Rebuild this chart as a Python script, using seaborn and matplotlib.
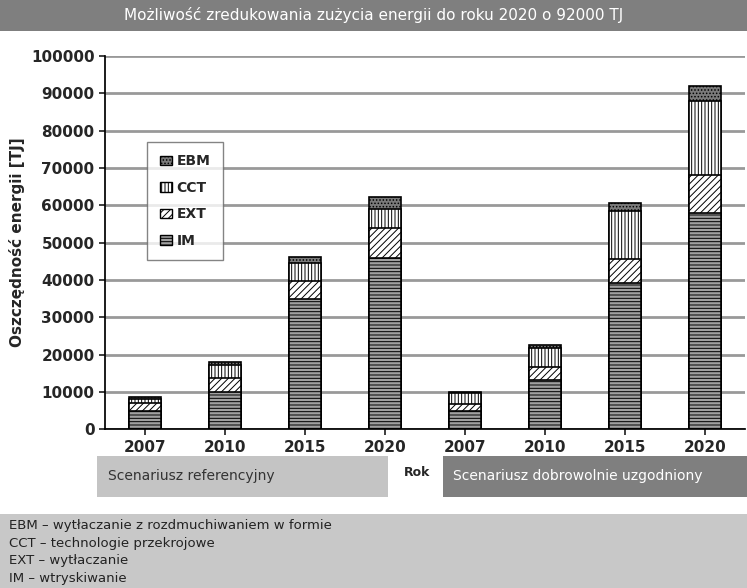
import numpy as np
import pandas as pd
import seaborn as sns
import matplotlib.pyplot as plt
from matplotlib.patches import Rectangle, Patch

years = ['2007', '2010', '2015', '2020', '2007', '2010', '2015', '2020']
im = [5000, 10000, 35000, 45900, 5000, 13200, 39100, 58000]
ext = [2000, 3600, 4600, 8100, 1700, 3400, 6400, 10000]
cct = [1000, 3700, 4900, 5000, 3100, 5100, 13000, 20000]
ebm = [600, 700, 1700, 3100, 200, 900, 2000, 4000]

series = ['EBM', 'CCT', 'EXT', 'IM']
values = {'IM': im, 'EXT': ext, 'CCT': cct, 'EBM': ebm}
styles = {'IM': ('#a0a0a0', '-----'), 'EXT': ('white', '/////'),
          'CCT': ('white', '|||||'), 'EBM': ('#7a7a7a', '.....')}

sns.set_theme(style='white')
plt.rcParams['font.family'] = ['DejaVu Sans']
plt.rcParams['hatch.linewidth'] = 0.7

fig = plt.figure(figsize=(7.47, 5.88), dpi=100)
ax = fig.add_axes([0.1406, 0.270, 0.857, 0.635])

pos = list(range(len(years)))
cum = np.zeros(len(years))
tops = {}
for s in ['IM', 'EXT', 'CCT', 'EBM']:
    cum = cum + np.array(values[s])
    tops[s] = cum.copy()

# draw cumulative totals from the tallest down so they stack visually
for s in series:
    col, hatch = styles[s]
    n0 = len(ax.patches)
    sns.barplot(x=pos, y=tops[s], order=pos, color=col, width=0.4,
                edgecolor='black', linewidth=1.2, ax=ax, saturation=1)
    for p in ax.patches[n0:]:
        p.set_hatch(hatch)
        p.set_facecolor(col)

ax.set_xticks(pos)
ax.set_xticklabels(years, fontsize=11, fontweight='bold')
ax.set_ylim(0, 100000)
ax.set_xlim(-0.5, 7.5)
ax.set_yticks(range(0, 100001, 10000))
ax.set_yticklabels([str(v) for v in range(0, 100001, 10000)], fontsize=11, fontweight='bold')
ax.yaxis.grid(True, color='#999999', linewidth=2)
ax.set_axisbelow(True)
for sp in ['top', 'right']:
    ax.spines[sp].set_visible(False)
for sp in ['left', 'bottom']:
    ax.spines[sp].set_color('black')
ax.tick_params(axis='y', length=4, left=True)
ax.tick_params(axis='x', length=4, bottom=True)
ax.set_xlabel('')
ax.set_ylabel('Oszczędność energii [TJ]', fontsize=11, fontweight='bold')

handles = [Patch(facecolor=styles[s][0], hatch=styles[s][1], edgecolor='black', label=s)
           for s in series]
leg = ax.legend(handles=handles, loc='upper left', bbox_to_anchor=(0.066, 0.77),
                frameon=True, fancybox=False, edgecolor='#666666',
                prop={'weight': 'bold', 'size': 10}, labelspacing=0.9, handlelength=0.9,
                handletextpad=0.3, borderpad=0.9, borderaxespad=0)
leg.get_frame().set_linewidth(1.0)
leg._legend_box.align = 'left'

# title band
fig.patches.append(Rectangle((0, 0.948), 1, 0.052, transform=fig.transFigure,
                             facecolor='#7f7f7f', edgecolor='none'))
fig.text(0.5, 0.974, 'Możliwość zredukowania zużycia energii do roku 2020 o 92000 TJ',
         ha='center', va='center', color='white', fontsize=11)

# scenario boxes
fig.patches.append(Rectangle((0.13, 0.155), 0.39, 0.07, transform=fig.transFigure,
                             facecolor='#c4c4c4', edgecolor='none'))
fig.text(0.145, 0.19, 'Scenariusz referencyjny', va='center', fontsize=10, color='#333333')
fig.patches.append(Rectangle((0.593, 0.155), 0.407, 0.07, transform=fig.transFigure,
                             facecolor='#7f7f7f', edgecolor='none'))
fig.text(0.607, 0.19, 'Scenariusz dobrowolnie uzgodniony', va='center', fontsize=10, color='white')
fig.text(0.558, 0.197, 'Rok', ha='center', va='center', fontsize=9, fontweight='bold')

# abbreviations box
fig.patches.append(Rectangle((0, 0), 1, 0.126, transform=fig.transFigure,
                             facecolor='#c8c8c8', edgecolor='none'))
notes = ['EBM – wytłaczanie z rozdmuchiwaniem w formie', 'CCT – technologie przekrojowe',
         'EXT – wytłaczanie', 'IM – wtryskiwanie']
for i, t in enumerate(notes):
    fig.text(0.012, 0.107 - i * 0.0305, t, va='center', fontsize=9.5, color='#222222')

fig.savefig('out.png', dpi=100)
